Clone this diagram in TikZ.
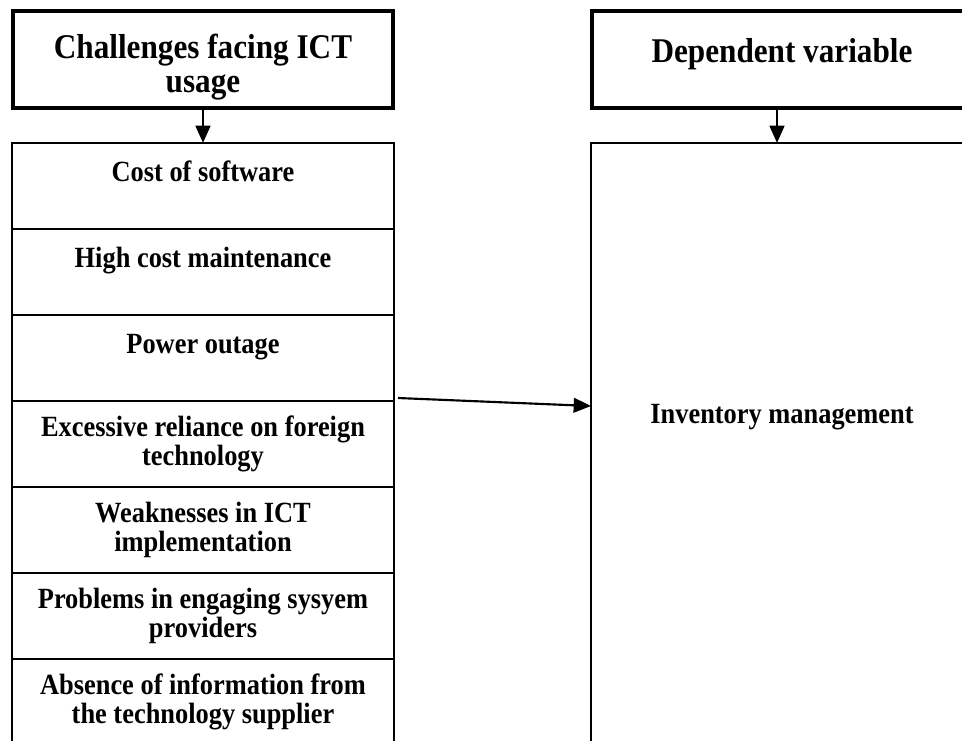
\documentclass[tikz,border=0pt]{standalone}
\usepackage{fontspec}
\setmainfont{Liberation Serif}[FakeStretch=0.9]
\usetikzlibrary{positioning,arrows.meta}

\begin{document}
\begin{tikzpicture}[
        node distance = 64.5pt,
        outer sep = 0pt,
        header/.style = {draw=black, line width=3pt, minimum width=285pt, minimum height=73pt,
                text height=55pt, align=center, font=\fontsize{26}{25.5}\selectfont\bfseries},
        item/.style = {draw=black, line width=0.8pt, minimum width=286.5pt, minimum height=64.5pt,
                align=center, font=\fontsize{22}{21.75}\selectfont\bfseries},
        link/.style = {-{Triangle[length=13pt,width=11pt]}, line width=2pt}]

        \useasboundingbox (0,0) rectangle (721.5pt,-555pt);

        % NODES
        % headers
        \node[header] at (152.25pt,-44.6pt) (ictHead) {Challenges facing ICT\\usage};
        \node[header] at (586.5pt,-44.6pt) (depHead) {Dependent variable\\~};

        % challenges
        \node[item] at (152.25pt,-139.5pt) (ictCost) {Cost of software\\~};
        \node[item, below of = ictCost] (ictMaint) {High cost maintenance\\~};
        \node[item, below of = ictMaint] (ictPower) {Power outage\\~};
        \node[item, below of = ictPower] (ictForeign) {Excessive reliance on foreign\\technology};
        \node[item, below of = ictForeign] (ictWeak) {Weaknesses in ICT\\implementation};
        \node[item, below of = ictWeak] (ictProv) {Problems in engaging sysyem\\providers};
        \node[item, below of = ictProv] (ictSupp) {Absence of information from\\the technology supplier};

        % dependent variable
        \node[draw=black, line width=1pt, minimum width=286.5pt, minimum height=451.5pt] at (586.5pt,-333pt) (invBox) {};
        \coordinate (invTop) at (invBox.north);
        \node[below of = invTop, node distance = 205.5pt, font=\fontsize{22}{21.75}\selectfont\bfseries] (invText) {Inventory management};

        % arrow ends
        \coordinate (ictOut) at ([xshift=3pt, yshift=2.25pt]ictPower.south east);
        \coordinate (invIn) at ([yshift=-197.25pt]invBox.north west);

        % ARROWS
        \draw[link] (ictHead.south)--(ictCost.north);
        \draw[link] ([xshift=-3.75pt]depHead.south)--([xshift=-3.75pt]invBox.north);
        \draw[link, line width=1.6pt] (ictOut)--(invIn);
\end{tikzpicture}
\end{document}
